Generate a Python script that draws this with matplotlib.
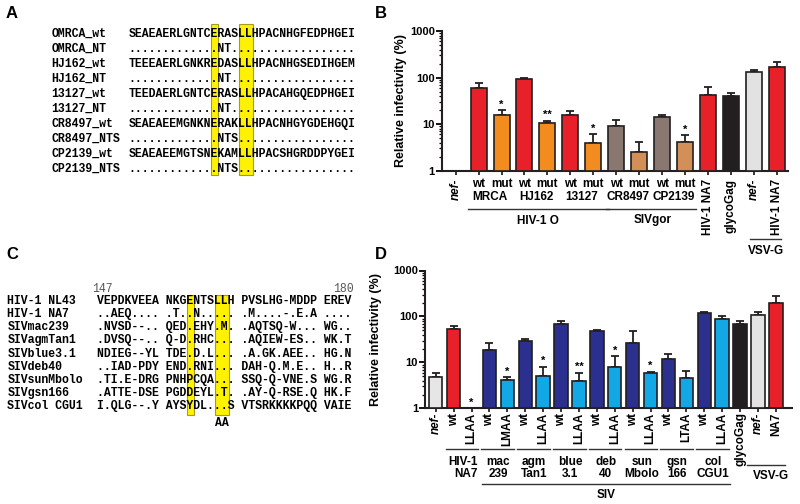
import numpy as np
import matplotlib
matplotlib.use('Agg')
import matplotlib.pyplot as plt
import matplotlib.transforms as mtransforms
from matplotlib.patches import Rectangle
from matplotlib.lines import Line2D
from matplotlib.ticker import FixedLocator, FixedFormatter, LogLocator, NullFormatter

W, H = 800, 504
plt.rcParams['font.family'] = ['Liberation Sans', 'DejaVu Sans']

# ---------------- Panel A data ----------------
a_names = ['OMRCA_wt', 'OMRCA_NT', 'HJ162_wt', 'HJ162_NT', '13127_wt', '13127_NT',
           'CR8497_wt', 'CR8497_NTS', 'CP2139_wt', 'CP2139_NTS']
a_seqs = ['SEAEAERLGNTCERASLLHPACNHGFEDPHGEI',
          '.............NT..................',
          'TEEEAERLGNKREDASLLHPACNHGSEDIHGEM',
          '.............NT..................',
          'TEEDAERLGNTCERASLLHPACAHGQEDPHGEI',
          '.............NT..................',
          'SEAEAEEMGNKNERAKLLHPACNHGYGDEHGQI',
          '.............NTS.................',
          'SEAEAEEMGTSNEKAMLLHPACSHGRDDPYGEI',
          '.............NTS.................']
a_box_cols = [(12, 1), (16, 2)]

# ---------------- Panel C data ----------------
c_names = ['HIV-1 NL43', 'HIV-1 NA7', 'SIVmac239', 'SIVagmTan1', 'SIVblue3.1',
           'SIVdeb40', 'SIVsunMbolo', 'SIVgsn166', 'SIVcol CGU1']
c_seqs = ['VEPDKVEEA NKGENTSLLH PVSLHG-MDDP EREV',
          '..AEQ.... .T..N..... .M....-.E.A ....',
          '.NVSD--.. QED.EHY.M. .AQTSQ-W... WG..',
          '.DVSQ--.. Q-D.RHC... .AQIEW-ES.. WK.T',
          'NDIEG--YL TDE.D.L... .A.GK.AEE.. HG.N',
          '..IAD-PDY END.RNI... DAH-Q.M.E.. H..R',
          '.TI.E-DRG PNHPCQA... SSQ-Q-VNE.S WG.R',
          '.ATTE-DSE PGDDEYL.T. .AY-Q-RSE.Q HK.F',
          'I.QLG--.Y AYSYDL...S VTSRKKKKPQQ VAIE']
c_box_cols = [(13, 1), (17, 2)]
c_start, c_end = '147', '180'

# ---------------- Panel B data ----------------
b_ticklabels = ['nef-', 'wt', 'mut', 'wt', 'mut', 'wt', 'mut', 'wt', 'mut', 'wt', 'mut',
                'HIV-1 NA7', 'glycoGag', 'nef-', 'HIV-1 NA7']
b_values = [np.nan, 60, 16, 91, 10.5, 15.7, 3.9, 9.0, 2.56, 14.2, 4.1, 41.5, 40.7, 131, 168]
b_err_top = [np.nan, 76, 20, 100, 11.8, 19, 6.1, 12, 4.2, 16, 5.8, 63, 47, 143, 218]
b_colors = ['#E6E6E6', '#E8202A', '#F28C1F', '#E8202A', '#F28C1F', '#E8202A', '#F28C1F',
            '#8A7870', '#D38F58', '#8A7870', '#D38F58', '#E8202A', '#231F20', '#E2E2E2', '#E8202A']
b_pairs = ['MRCA', 'HJ162', '13127', 'CR8497', 'CP2139']
b_stars = {2: '*', 4: '**', 6: '*', 10: '*'}
b_groups = [('HIV-1 O', 1, 6), ('SIVgor', 7, 10)]

# ---------------- Panel D data ----------------
d_ticklabels = ['nef-', 'wt', 'LLAA', 'wt', 'LMAA', 'wt', 'LLAA', 'wt', 'LLAA', 'wt', 'LLAA',
                'wt', 'LLAA', 'wt', 'LTAA', 'wt', 'LLAA', 'glycoGag', 'nef-', 'NA7']
d_values = [4.8, 54, np.nan, 18.5, 4.1, 29.5, 5.06, 69, 3.9, 49, 7.8, 26.7, 6.0, 11.6, 4.5,
            118, 87, 69, 106, 201]
d_err_top = [5.9, 61, np.nan, 27, 4.8, 33, 8.0, 78, 6.0, 50, 13.7, 48, 6.2, 15, 6.6,
             127, 103, 80, 124, 275]
DB, LB = '#2B2F8E', '#12A8E6'
d_colors = ['#E6E6E6', '#E8202A', LB, DB, LB, DB, LB, DB, LB, DB, LB, DB, LB, DB, LB,
            DB, LB, '#231F20', '#E2E2E2', '#E8202A']
d_stars = {2: '*', 4: '*', 6: '*', 8: '**', 10: '*', 12: '*'}
d_pairs = ['HIV-1\nNA7', 'mac\n239', 'agm\nTan1', 'blue\n3.1', 'deb\n40', 'sun\nMbolo',
           'gsn\n166', 'col\nCGU1']

fig = plt.figure(figsize=(W / 100, H / 100), dpi=100)


def fx(x):
    return x / W


def fy(y):
    return 1 - y / H


# ---------------- sequence panels ----------------
CW = 6.92
MONO = dict(family=['Liberation Mono', 'DejaVu Sans Mono'], fontsize=8.3, weight='bold')


def seq_panel(names, seqs, name_x, seq_x, y0, dy, boxes, box_y0, box_y1):
    for c0, n in boxes:
        r = Rectangle((fx(seq_x + c0 * CW), fy(box_y1)), n * CW / W, (box_y1 - box_y0) / H,
                      transform=fig.transFigure, facecolor='#FFF200', edgecolor='#A89A20',
                      linewidth=0.8, zorder=0)
        fig.add_artist(r)
    for i, (nm, s) in enumerate(zip(names, seqs)):
        yb = y0 + i * dy
        fig.text(fx(name_x), fy(yb), nm, va='baseline', ha='left', zorder=3, **MONO)
        fig.text(fx(seq_x), fy(yb), s, va='baseline', ha='left', zorder=3, **MONO)


seq_panel(a_names, a_seqs, 51.5, 128.3, 36.6, 15.0, a_box_cols, 24, 175)
seq_panel(c_names, c_seqs, 7.3, 97.3, 304.2, 13.1, c_box_cols, 295, 414.5)
fig.text(fx(91.7), fy(291.5), c_start, va='baseline', ha='left', color='#555555',
         family=['Liberation Mono'], fontsize=8.3)
fig.text(fx(333), fy(291.5), c_end, va='baseline', ha='left', color='#555555',
         family=['Liberation Mono'], fontsize=8.3)
fig.text(fx(97.3 + 17 * CW), fy(426.5), 'AA', va='baseline', ha='left', **MONO)

# panel letters
for lab, x, y in [('A', 6, 18.5), ('B', 375, 18.5), ('C', 6, 259), ('D', 375, 259)]:
    fig.text(fx(x), fy(y), lab, fontsize=12, weight='bold', va='baseline', ha='left')

LAB = dict(fontsize=8.5, weight='bold')


def style_axis(ax, xlim):
    ax.set_yscale('log')
    ax.set_ylim(1, 1000)
    ax.set_xlim(*xlim)
    for s in ['top', 'right']:
        ax.spines[s].set_visible(False)
    for s in ['left', 'bottom']:
        ax.spines[s].set_linewidth(1.5)
        ax.spines[s].set_color('#231F20')
    ax.yaxis.set_major_locator(FixedLocator([1, 10, 100, 1000]))
    ax.yaxis.set_major_formatter(FixedFormatter(['1', '10', '100', '1000']))
    ax.yaxis.set_minor_locator(LogLocator(base=10, subs=np.arange(2, 10)))
    ax.yaxis.set_minor_formatter(NullFormatter())
    ax.tick_params(axis='y', which='major', length=4, width=1.3, labelsize=8, pad=1)
    ax.tick_params(axis='y', which='minor', length=2.2, width=0.9)
    ax.tick_params(axis='x', length=3, width=1.1, labelbottom=False)
    for t in ax.get_yticklabels():
        t.set_fontweight('bold')


def draw_bars(ax, values, errtop, colors, width, capsize, stars):
    x = np.arange(len(values))
    v = np.array(values, float)
    e = np.array(errtop, float) - v
    ok = np.isfinite(v)
    ax.bar(x[ok], v[ok] - 1, bottom=1, width=width, color=[c for c, k in zip(colors, ok) if k],
           edgecolor='#231F20', linewidth=1.2, zorder=3)
    ax.errorbar(x[ok], v[ok], yerr=[np.zeros(ok.sum()), e[ok]], fmt='none', ecolor='#231F20',
                elinewidth=1.3, capsize=capsize, capthick=1.3, zorder=2)
    ax.set_xticks(x)
    for i, s in stars.items():
        top = errtop[i] if np.isfinite(errtop[i]) else 1.0
        ax.annotate(s, (i, top), xytext=(0, 0.5), textcoords='offset points', ha='center',
                    va='bottom', fontsize=8, weight='bold', annotation_clip=False)


# ---------------- Panel B ----------------
axB = fig.add_axes([441.7 / W, fy(170.7), (787.7 - 441.7) / W, (170.7 - 31) / H])
draw_bars(axB, b_values, b_err_top, b_colors, 0.70, 3.2, b_stars)
style_axis(axB, (-0.61, 14.48))
axB.set_ylabel('Relative infectivity (%)', fontsize=9, weight='bold', labelpad=2)
trB = mtransforms.blended_transform_factory(axB.transData, fig.transFigure)
for i, lab in enumerate(b_ticklabels):
    if lab in ('wt', 'mut'):
        axB.text(i, fy(184), lab, transform=trB, ha='center', va='center', **LAB)
    else:
        style = 'italic' if lab == 'nef-' else 'normal'
        axB.text(i, fy(178.5), lab, transform=trB, ha='center', va='top', rotation=90,
                 style=style, **LAB)
for k, nm in enumerate(b_pairs):
    axB.text(1.5 + 2 * k, fy(196.7), nm, transform=trB, ha='center', va='center', **LAB)
for nm, lo, hi in b_groups:
    axB.add_line(Line2D([lo - 0.46, hi + 0.68 if nm == 'HIV-1 O' else hi + 0.5], [fy(209), fy(209)],
                        transform=trB, color='#333333', lw=1.0, clip_on=False))
    axB.text((lo + hi) / 2 + 0.1, fy(220.5), nm, transform=trB, ha='center', va='center', **LAB)
axB.add_line(Line2D([12.84, 14.2], [fy(239), fy(239)], transform=trB, color='#333333', lw=1.0,
                    clip_on=False))
axB.text(13.55, fy(250.5), 'VSV-G', transform=trB, ha='center', va='center', **LAB)

# ---------------- Panel D ----------------
axD = fig.add_axes([425 / W, fy(408.4), (792 - 425) / W, (408.4 - 270.5) / H])
draw_bars(axD, d_values, d_err_top, d_colors, 0.75, 2.6, d_stars)
style_axis(axD, (-0.6, 19.9))
axD.set_ylabel('Relative infectivity (%)', fontsize=9, weight='bold', labelpad=8)
trD = mtransforms.blended_transform_factory(axD.transData, fig.transFigure)
for i, lab in enumerate(d_ticklabels):
    style = 'italic' if lab == 'nef-' else 'normal'
    axD.text(i, fy(412.5), lab, transform=trD, ha='center', va='top', rotation=90,
             style=style, **LAB)
for k, nm in enumerate(d_pairs):
    lo, hi = 1 + 2 * k, 2 + 2 * k
    axD.add_line(Line2D([lo - 0.45, hi + 0.37], [fy(449.3), fy(449.3)], transform=trD,
                        color='#333333', lw=1.0, clip_on=False))
    axD.text((lo + hi) / 2, fy(468), nm, transform=trD, ha='center', va='center',
             linespacing=1.1, multialignment='right' if k == 0 else 'center', **LAB)
axD.add_line(Line2D([2.57, 16.44], [fy(484), fy(484)], transform=trD, color='#333333', lw=1.0,
                    clip_on=False))
axD.text(9.5, fy(495.5), 'SIV', transform=trD, ha='center', va='center', **LAB)
axD.add_line(Line2D([17.4, 19.52], [fy(465), fy(465)], transform=trD, color='#333333', lw=1.0,
                    clip_on=False))
axD.text(18.7, fy(476), 'VSV-G', transform=trD, ha='center', va='center', **LAB)

fig.savefig('out.png', dpi=100)
